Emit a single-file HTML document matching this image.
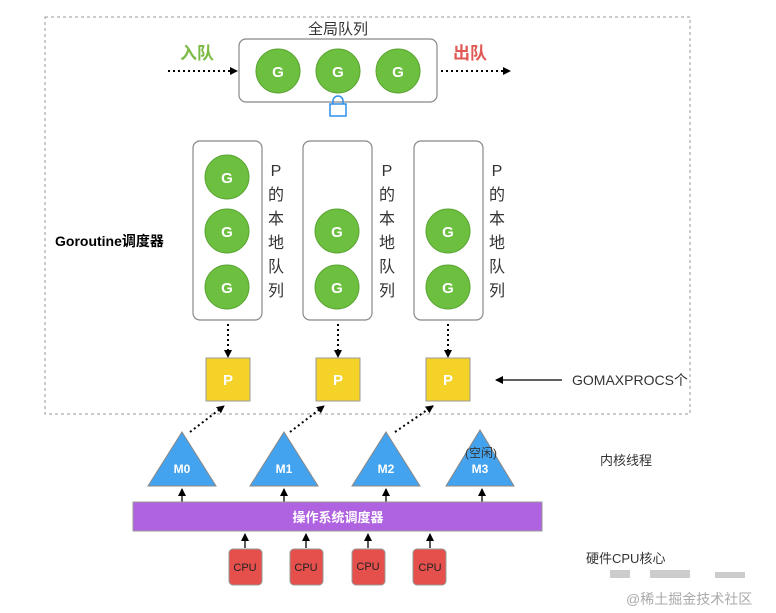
<!DOCTYPE html>
<html><head><meta charset="utf-8"><style>
body{margin:0;background:#fff;}
svg{display:block;}
text{font-family:"Liberation Sans","Noto Sans CJK SC",sans-serif;}
</style></head><body>
<svg width="776" height="613" viewBox="0 0 776 613" xmlns="http://www.w3.org/2000/svg">
<defs>
<marker id="ah" markerWidth="8" markerHeight="8" refX="7" refY="4" orient="auto" markerUnits="userSpaceOnUse"><path d="M0,0 L8,4 L0,8 z" fill="#000"/></marker>
</defs>
<rect x="45" y="17" width="645" height="397" fill="none" stroke="#999" stroke-dasharray="3,3" stroke-width="1"/>
<text x="338" y="34" font-size="15" text-anchor="middle" fill="#333">全局队列</text>
<rect x="239" y="39" width="198" height="63" rx="7" fill="#fff" stroke="#888" stroke-width="1.2"/>
<g fill="#6cbf3f" stroke="#5aa533" stroke-width="1">
<circle cx="278" cy="71" r="22"/><circle cx="338" cy="71" r="22"/><circle cx="398" cy="71" r="22"/>
</g>
<g font-size="15" font-weight="bold" fill="#fff" text-anchor="middle">
<text x="278" y="77">G</text><text x="338" y="77">G</text><text x="398" y="77">G</text>
</g>
<rect x="330" y="104" width="16" height="12" fill="#fff" stroke="#2f8fe8" stroke-width="1.5"/>
<path d="M333,104 v-3 a5,5 0 0 1 10,0 v3" fill="none" stroke="#2f8fe8" stroke-width="1.5"/>
<text x="180" y="59" font-size="17" font-weight="bold" fill="#7dbb46">入队</text>
<text x="453" y="59" font-size="17" font-weight="bold" fill="#e05a55">出队</text>
<line x1="168" y1="71" x2="237" y2="71" stroke="#000" stroke-width="2" stroke-dasharray="2,3" marker-end="url(#ah)"/>
<line x1="441" y1="71" x2="510" y2="71" stroke="#000" stroke-width="2" stroke-dasharray="2,3" marker-end="url(#ah)"/>
<text x="55" y="246" font-size="14" font-weight="bold" fill="#000">Goroutine调度器</text>
<g fill="#fff" stroke="#888" stroke-width="1.2">
<rect x="193" y="141" width="69" height="179" rx="7"/>
<rect x="303" y="141" width="69" height="179" rx="7"/>
<rect x="414" y="141" width="69" height="179" rx="7"/>
</g>
<g fill="#6cbf3f" stroke="#5aa533">
<circle cx="227" cy="177" r="22"/><circle cx="227" cy="231" r="22"/><circle cx="227" cy="287" r="22"/>
<circle cx="337" cy="231" r="22"/><circle cx="337" cy="287" r="22"/>
<circle cx="448" cy="231" r="22"/><circle cx="448" cy="287" r="22"/>
</g>
<g font-size="15" font-weight="bold" fill="#fff" text-anchor="middle">
<text x="227" y="183">G</text><text x="227" y="237">G</text><text x="227" y="293">G</text>
<text x="337" y="237">G</text><text x="337" y="293">G</text>
<text x="448" y="237">G</text><text x="448" y="293">G</text>
</g>
<g font-size="16" fill="#333" text-anchor="middle">
<text x="276" y="176">P</text><text x="276" y="200">的</text><text x="276" y="224">本</text><text x="276" y="248">地</text><text x="276" y="272">队</text><text x="276" y="296">列</text>
<text x="387" y="176">P</text><text x="387" y="200">的</text><text x="387" y="224">本</text><text x="387" y="248">地</text><text x="387" y="272">队</text><text x="387" y="296">列</text>
<text x="497" y="176">P</text><text x="497" y="200">的</text><text x="497" y="224">本</text><text x="497" y="248">地</text><text x="497" y="272">队</text><text x="497" y="296">列</text>
</g>
<g stroke="#000" stroke-width="2" stroke-dasharray="2,3">
<line x1="228" y1="324" x2="228" y2="357" marker-end="url(#ah)"/>
<line x1="338" y1="324" x2="338" y2="357" marker-end="url(#ah)"/>
<line x1="448" y1="324" x2="448" y2="357" marker-end="url(#ah)"/>
</g>
<g fill="#f4d228" stroke="#999" stroke-width="1">
<rect x="206" y="358" width="44" height="43"/><rect x="316" y="358" width="44" height="43"/><rect x="426" y="358" width="44" height="43"/>
</g>
<g font-size="15" font-weight="bold" fill="#fff" text-anchor="middle">
<text x="228" y="385">P</text><text x="338" y="385">P</text><text x="448" y="385">P</text>
</g>
<line x1="562" y1="380" x2="496" y2="380" stroke="#000" stroke-width="1.3" marker-end="url(#ah)"/>
<text x="572" y="385" font-size="14" fill="#333">GOMAXPROCS个</text>
<g stroke="#000" stroke-width="2" stroke-dasharray="2,3">
<line x1="190" y1="432" x2="224" y2="406" marker-end="url(#ah)"/>
<line x1="290" y1="432" x2="324" y2="406" marker-end="url(#ah)"/>
<line x1="395" y1="432" x2="433" y2="406" marker-end="url(#ah)"/>
</g>
<g fill="#44a3ef" stroke="#888" stroke-width="1">
<polygon points="182,432 216,486 148,486"/>
<polygon points="284,432 318,486 250,486"/>
<polygon points="386,432 420,486 352,486"/>
<polygon points="480,430 514,486 446,486"/>
</g>
<g font-size="12" font-weight="bold" fill="#fff" text-anchor="middle">
<text x="182" y="473">M0</text><text x="284" y="473">M1</text><text x="386" y="473">M2</text><text x="480" y="473">M3</text>
</g>
<text x="481" y="457" font-size="12" fill="#333" text-anchor="middle">(空闲)</text>
<g stroke="#000" stroke-width="1.3">
<line x1="182" y1="502" x2="182" y2="489" marker-end="url(#ah)"/>
<line x1="284" y1="502" x2="284" y2="489" marker-end="url(#ah)"/>
<line x1="386" y1="502" x2="386" y2="489" marker-end="url(#ah)"/>
<line x1="482" y1="502" x2="482" y2="489" marker-end="url(#ah)"/>
</g>
<rect x="133" y="502" width="409" height="29" fill="#b063e0" stroke="#999" stroke-width="1"/>
<text x="338" y="522" font-size="13" font-weight="bold" fill="#fff" text-anchor="middle">操作系统调度器</text>
<g stroke="#000" stroke-width="1.3">
<line x1="245" y1="548" x2="245" y2="534" marker-end="url(#ah)"/>
<line x1="306" y1="548" x2="306" y2="534" marker-end="url(#ah)"/>
<line x1="368" y1="548" x2="368" y2="534" marker-end="url(#ah)"/>
<line x1="430" y1="548" x2="430" y2="534" marker-end="url(#ah)"/>
</g>
<g fill="#e5504c" stroke="#999" stroke-width="1">
<rect x="229" y="549" width="33" height="36" rx="4"/>
<rect x="290" y="549" width="33" height="36" rx="4"/>
<rect x="352" y="549" width="33" height="36" rx="4"/>
<rect x="413" y="549" width="33" height="36" rx="4"/>
</g>
<g font-size="11" fill="#222" text-anchor="middle">
<text x="245" y="571">CPU</text><text x="306" y="571">CPU</text><text x="368" y="570">CPU</text><text x="430" y="571">CPU</text>
</g>
<text x="600" y="465" font-size="13" fill="#333">内核线程</text>
<text x="586" y="563" font-size="13" fill="#333">硬件CPU核心</text>
<g fill="#ccc">
<rect x="610" y="570" width="20" height="8"/><rect x="650" y="570" width="40" height="8"/><rect x="715" y="572" width="30" height="6"/>
</g>
<text x="626" y="604" font-size="14" fill="#aaa">@稀土掘金技术社区</text>
</svg>
</body></html>
